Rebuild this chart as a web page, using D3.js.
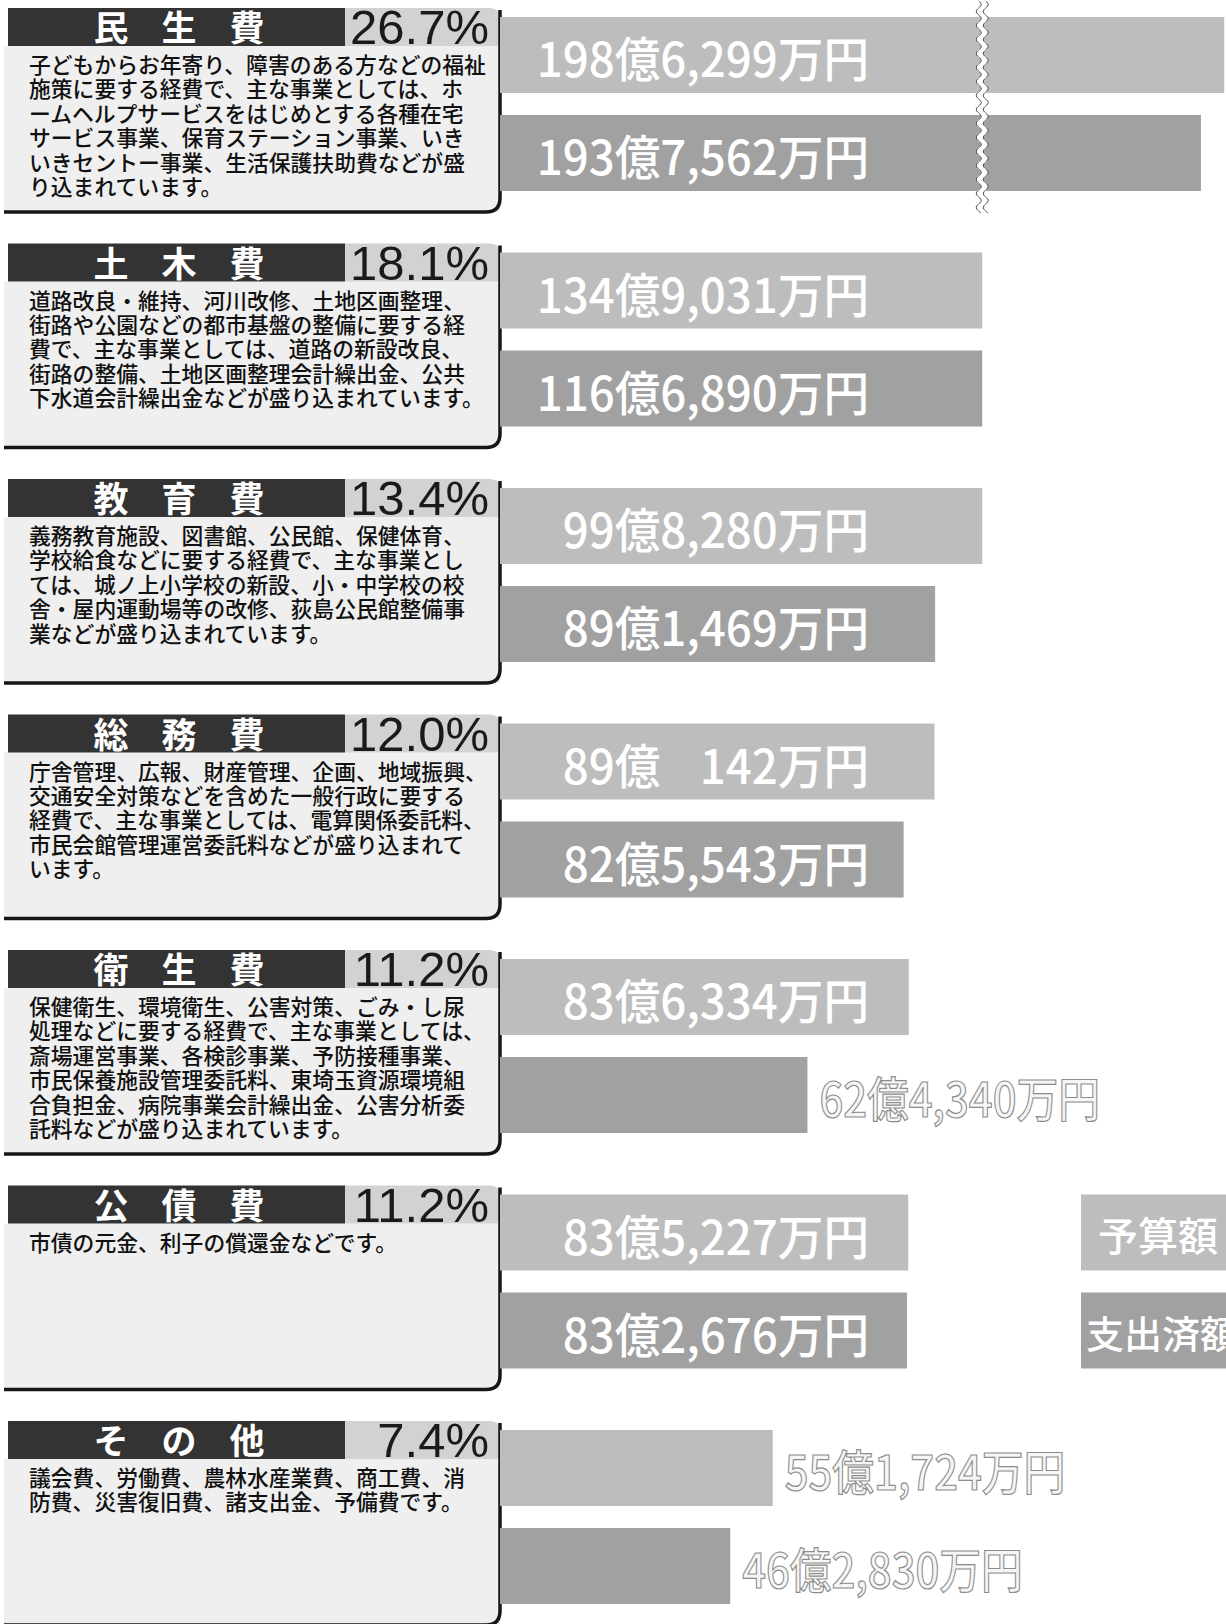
<!DOCTYPE html>
<html><head><meta charset="utf-8">
<script src="https://cdn.jsdelivr.net/npm/d3@7"></script>
<style>html,body{margin:0;padding:0;background:#fff;} svg{display:block;}</style>
</head><body>
<script>
// ---- data ----
const categories = ['民生費','土木費','教育費','総務費','衛生費','公債費','その他'];
const shares = [26.7, 18.1, 13.4, 12.0, 11.2, 11.2, 7.4];
// values in 万円
const budget = [1986299, 1349031, 998280, 890142, 836334, 835227, 551724];
const spent  = [1937562, 1166890, 891469, 825543, 624340, 832676, 462830];
const seriesNames = ['予算額','支出済額'];
const descriptions = [
  ['子どもからお年寄り、障害のある方などの福祉','施策に要する経費で、主な事業としては、ホ','ームヘルプサービスをはじめとする各種在宅','サービス事業、保育ステーション事業、いき','いきセントー事業、生活保護扶助費などが盛','り込まれています。'],
  ['道路改良・維持、河川改修、土地区画整理、','街路や公園などの都市基盤の整備に要する経','費で、主な事業としては、道路の新設改良、','街路の整備、土地区画整理会計繰出金、公共','下水道会計繰出金などが盛り込まれています。'],
  ['義務教育施設、図書館、公民館、保健体育、','学校給食などに要する経費で、主な事業とし','ては、城ノ上小学校の新設、小・中学校の校','舎・屋内運動場等の改修、荻島公民館整備事','業などが盛り込まれています。'],
  ['庁舎管理、広報、財産管理、企画、地域振興、','交通安全対策などを含めた一般行政に要する','経費で、主な事業としては、電算関係委託料、','市民会館管理運営委託料などが盛り込まれて','います。'],
  ['保健衛生、環境衛生、公害対策、ごみ・し尿','処理などに要する経費で、主な事業としては、','斎場運営事業、各検診事業、予防接種事業、','市民保養施設管理委託料、東埼玉資源環境組','合負担金、病院事業会計繰出金、公害分析委','託料などが盛り込まれています。'],
  ['市債の元金、利子の償還金などです。'],
  ['議会費、労働費、農林水産業費、商工費、消','防費、災害復旧費、諸支出金、予備費です。']
];

// ---- layout ----
const W = 1226, H = 1624;
const svg = d3.select('body').append('svg').attr('width', W).attr('height', H);
const JP = '"Noto Sans CJK JP","Noto Sans CJK SC",sans-serif';

const pitch = 235.5;
const yScale = d3.scaleBand().domain(categories).range([8, 8 + pitch * categories.length]).padding(0);
// broken axis (in 億円)
const k = 4.78;
const xScale = d3.scaleLinear().domain([0, 99, 148, 215]).range([509, 509 + 99 * k, 509 + 99 * k, 509 + 99 * k + 67 * k]);
const barStart = 500;

const C = {
  bar1: '#bdbdbd', bar2: '#a1a1a1', head: '#333333', pct: '#d2d2d2', box: '#efefef', border: '#161616'
};
const headH = 38, boxB = 204;
const barOff = [9, 107], barH = 76;

function fmt(v) {
  const oku = Math.floor(v / 10000), man = v % 10000;
  let m = d3.format(',')(man);
  if (man < 1000) m = '\u2007\u2008' + m; // keep the gap of the missing digits
  return oku + '億' + m + '万円';
}

const g = svg.selectAll('g.sec').data(categories).join('g').attr('class', 'sec')
  .attr('transform', d => `translate(0,${yScale(d)})`);

// description box background
g.append('rect').attr('x', 4).attr('y', headH).attr('width', 496).attr('height', boxB - headH).attr('fill', C.box);
// header black box
g.append('rect').attr('x', 8).attr('y', 0).attr('width', 337).attr('height', headH).attr('fill', C.head);
// percent box
g.append('path').attr('d', `M345,0 H490 Q500,0 500,10 V${headH} H345 Z`).attr('fill', C.pct);
// right + bottom border
g.append('path').attr('d', `M500,2 V${boxB - 14} Q500,${boxB} 486,${boxB} H4`)
  .attr('fill', 'none').attr('stroke', C.border).attr('stroke-width', 3.5);

// header title chars
g.each(function(d) {
  const chars = Array.from(d);
  d3.select(this).selectAll('text.h').data(chars).join('text').attr('class', 'h')
    .attr('x', (c, j) => 111 + j * 68).attr('y', 17.5)
    .attr('text-anchor', 'middle').attr('dominant-baseline', 'central')
    .attr('font-family', JP).attr('font-weight', 700).attr('font-size', 35)
    .attr('fill', '#fff').text(c => c);
});
// percent
g.append('text').attr('x', 489).attr('y', 36).attr('text-anchor', 'end')
  .attr('font-family', '"Liberation Sans",Arial,sans-serif').attr('font-size', 49)
  .attr('fill', '#1a1a1a').text((d, i) => d3.format('.1f')(shares[i]) + '%');
// description lines
g.each(function(d, i) {
  d3.select(this).selectAll('text.desc').data(descriptions[i]).join('text').attr('class', 'desc')
    .attr('x', 29).attr('y', (t, j) => 65 + j * 24.4)
    .attr('font-family', JP).attr('font-weight', 500).attr('font-size', 21.8).attr('fill', '#111').text(t => t);
});

// bars
const rows = [];
categories.forEach((c, i) => {
  rows.push({c, s: 0, v: budget[i]});
  rows.push({c, s: 1, v: spent[i]});
});
const xEnd = d => Math.min(W, xScale(d.v / 10000));
svg.selectAll('rect.bar').data(rows).join('rect').attr('class', 'bar')
  .attr('x', barStart).attr('y', d => yScale(d.c) + barOff[d.s])
  .attr('width', d => xEnd(d) - barStart).attr('height', barH)
  .attr('fill', d => d.s ? C.bar2 : C.bar1);

// break mark on the broken bars
const bx = xScale(99);
const brk = svg.append('g');
function wave(dx) {
  const p = d3.path();
  const y0 = yScale(categories[0]) - 7, y1 = yScale(categories[0]) + 205;
  p.moveTo(bx + dx, y0);
  for (let y = y0; y <= y1; y += 1) p.lineTo(bx + dx + 2.5 * Math.sin((y - y0) / 14 * 2 * Math.PI), y);
  return p.toString();
}
brk.append('path').attr('d', wave(0)).attr('fill', 'none').attr('stroke', '#fff').attr('stroke-width', 6);
brk.append('path').attr('d', wave(-3.5)).attr('fill', 'none').attr('stroke', '#555').attr('stroke-width', 1);
brk.append('path').attr('d', wave(3.5)).attr('fill', 'none').attr('stroke', '#555').attr('stroke-width', 1);

// value labels
const labelRight = 869;
svg.selectAll('text.val').data(rows).join('text').attr('class', 'val')
  .attr('y', d => yScale(d.c) + barOff[d.s] + barH / 2 + 1)
  .attr('dominant-baseline', 'central')
  .attr('font-family', JP).attr('font-weight', 500).attr('font-size', 48)
  .style('white-space', 'pre')
  .text(d => fmt(d.v))
  .each(function(d) {
    const t = d3.select(this);
    const nat = this.getComputedTextLength();
    const w = nat * 0.95;
    if (labelRight + 10 < xEnd(d)) {
      t.attr('textLength', w).attr('lengthAdjust', 'spacingAndGlyphs')
        .attr('x', labelRight).attr('text-anchor', 'end').attr('fill', '#fff');
    } else {
      t.attr('textLength', nat * 0.87).attr('lengthAdjust', 'spacingAndGlyphs')
        .attr('x', xEnd(d) + 12).attr('fill', '#f6f6f6')
        .attr('stroke', '#8c8c8c').attr('stroke-width', 1.2);
    }
  });

// legend (aligned with 公債費 bars)
const lg = svg.selectAll('g.lg').data(seriesNames).join('g').attr('class', 'lg')
  .attr('transform', (d, s) => `translate(1081,${yScale(categories[5]) + barOff[s]})`);
lg.append('rect').attr('width', 160).attr('height', barH).attr('fill', (d, s) => s ? C.bar2 : C.bar1);
lg.append('text').attr('x', (d, s) => s ? 5 : 17).attr('y', barH / 2 + 1)
  .attr('dominant-baseline', 'central').attr('font-family', JP).attr('font-weight', 500)
  .attr('font-size', (d, s) => s ? 38 : 40).attr('fill', '#fff').text(d => d);
</script>
</body></html>
